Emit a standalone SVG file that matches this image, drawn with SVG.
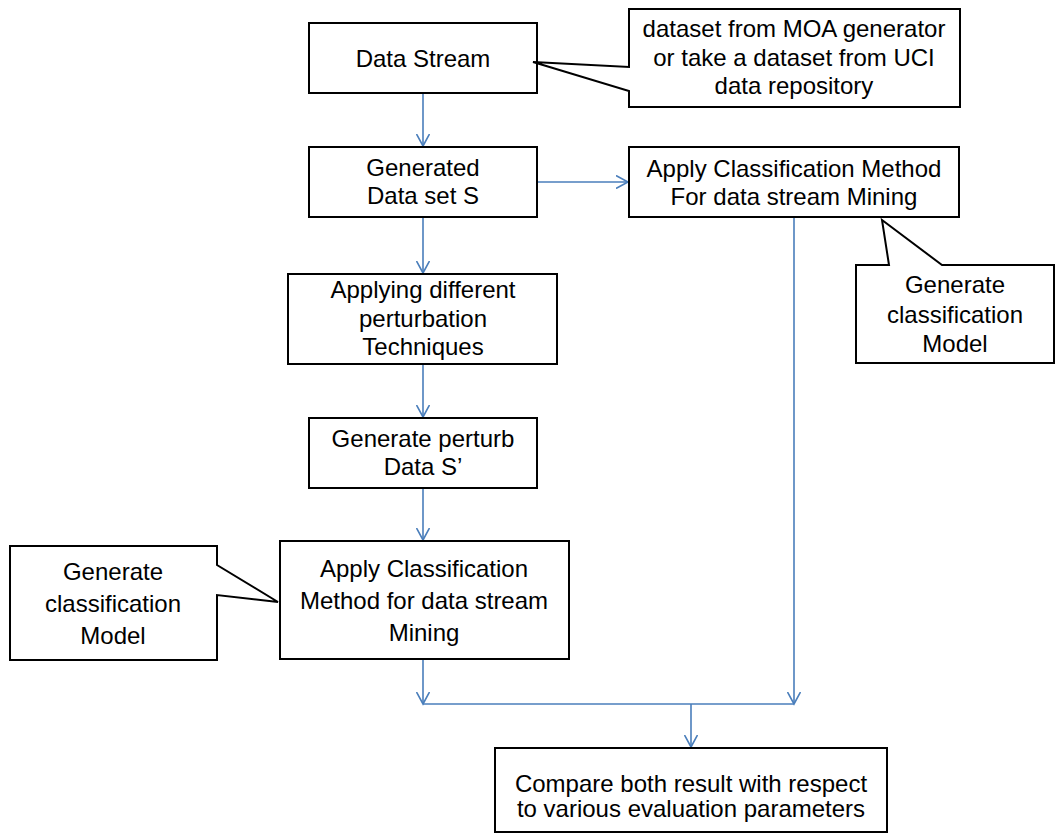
<svg xmlns="http://www.w3.org/2000/svg" width="1056" height="836" viewBox="0 0 1056 836">
<defs>
<style>
.box{fill:#fff;stroke:#000;stroke-width:2}
.t{font-family:"Liberation Sans",Arial,sans-serif;font-size:24px;fill:#000;text-anchor:middle}
.c{fill:none;stroke:#4a7ebb;stroke-width:1.6}
</style>
<marker id="ah" viewBox="0 0 14 14" refX="12" refY="7" markerWidth="14" markerHeight="14" markerUnits="userSpaceOnUse" orient="auto">
<path d="M0,0.5 L12,7 L0,13.5" fill="none" stroke="#4a7ebb" stroke-width="1.6"/>
</marker>
</defs>
<rect width="1056" height="836" fill="#fff"/>
<g id="connectors">
<line class="c" x1="423" y1="93" x2="423" y2="146" marker-end="url(#ah)"/>
<line class="c" x1="537" y1="182" x2="628" y2="182" marker-end="url(#ah)"/>
<line class="c" x1="423" y1="217" x2="423" y2="273" marker-end="url(#ah)"/>
<line class="c" x1="423" y1="364" x2="423" y2="417" marker-end="url(#ah)"/>
<line class="c" x1="423" y1="488" x2="423" y2="540" marker-end="url(#ah)"/>
<line class="c" x1="423" y1="659" x2="423" y2="704" marker-end="url(#ah)"/>
<line class="c" x1="794" y1="217" x2="794" y2="704" marker-end="url(#ah)"/>
<line class="c" x1="423" y1="704" x2="794" y2="704"/>
<line class="c" x1="691" y1="704" x2="691" y2="747" marker-end="url(#ah)"/>
</g>
<g id="data-stream">
<rect class="box" x="309" y="23" width="228" height="70"/>
<text class="t" x="423" y="67">Data Stream</text>
</g>
<g id="callout-source">
<path class="box" d="M629,9 H960 V107 H629 V91 L533,62 L629,67 Z"/>
<text class="t" x="794" y="37">dataset from MOA generator</text>
<text class="t" x="794" y="66">or take a dataset from UCI</text>
<text class="t" x="794" y="94">data repository</text>
</g>
<g id="generated">
<rect class="box" x="309" y="147" width="228" height="70"/>
<text class="t" x="423" y="176">Generated</text>
<text class="t" x="423" y="204">Data set S</text>
</g>
<g id="apply-top">
<rect class="box" x="629" y="147" width="330" height="70"/>
<text class="t" x="794" y="177">Apply Classification Method</text>
<text class="t" x="794" y="205">For data stream Mining</text>
</g>
<g id="callout-model-right">
<path class="box" d="M856,265 H889 L882,220 L942,265 H1054 V363 H856 Z"/>
<text class="t" x="955" y="293">Generate</text>
<text class="t" x="955" y="323">classification</text>
<text class="t" x="955" y="352">Model</text>
</g>
<g id="applying">
<rect class="box" x="288" y="274" width="269" height="90"/>
<text class="t" x="423" y="298">Applying different</text>
<text class="t" x="423" y="327">perturbation</text>
<text class="t" x="423" y="355">Techniques</text>
</g>
<g id="perturb">
<rect class="box" x="309" y="418" width="228" height="70"/>
<text class="t" x="423" y="447">Generate perturb</text>
<text class="t" x="423" y="475">Data S’</text>
</g>
<g id="apply-bottom">
<rect class="box" x="280" y="541" width="289" height="118"/>
<text class="t" x="424" y="577">Apply Classification</text>
<text class="t" x="424" y="609">Method for data stream</text>
<text class="t" x="424" y="641">Mining</text>
</g>
<g id="callout-model-left">
<path class="box" d="M10,546 H217 V565 L278,602 L217,595 V660 H10 Z"/>
<text class="t" x="113" y="580">Generate</text>
<text class="t" x="113" y="612">classification</text>
<text class="t" x="113" y="644">Model</text>
</g>
<g id="compare">
<rect class="box" x="495" y="748" width="392" height="84"/>
<text class="t" x="691" y="792">Compare both result with respect</text>
<text class="t" x="691" y="817">to various evaluation parameters</text>
</g>
</svg>
